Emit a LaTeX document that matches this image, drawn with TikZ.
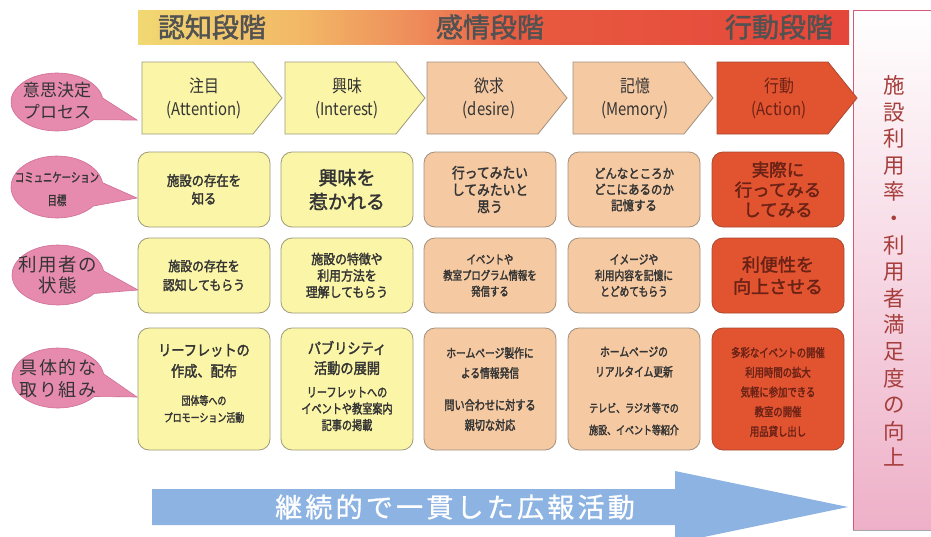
\documentclass[tikz,border=0pt]{standalone}
\usepackage{fontspec}
\setmainfont{Noto Sans CJK JP}
\newfontfamily\jr{Noto Sans CJK JP}[FakeStretch=0.85]
\newfontfamily\jb{Noto Sans CJK JP}[FakeStretch=0.88,FakeBold=2.0]
\newfontfamily\jc{Noto Sans CJK JP}[FakeStretch=0.78,FakeBold=2.0]
\newfontfamily\jh{Noto Sans CJK JP}[FakeBold=1.8]
\newfontfamily\jl{Noto Sans CJK JP}[LetterSpace=8]
\newfontfamily\jn{Noto Sans CJK JP}[FakeStretch=0.72,FakeBold=1.2]
\newfontfamily\ja{Noto Sans CJK JP}[LetterSpace=12,FakeBold=1.0]
\newcommand\fs[2]{\fontsize{#1}{#2}\selectfont}
\definecolor{yelF}{HTML}{FBF5A8}
\definecolor{yelD}{HTML}{9C9A78}
\definecolor{peaF}{HTML}{F5C9A2}
\definecolor{peaD}{HTML}{A0907F}
\definecolor{redF}{HTML}{E2532F}
\definecolor{redD}{HTML}{A84A30}
\definecolor{txt}{HTML}{343434}
\definecolor{redT}{HTML}{6A2216}
\definecolor{bubF}{HTML}{E68AAE}
\definecolor{bubD}{HTML}{D06E96}
\definecolor{blueF}{HTML}{8DB3E2}
\definecolor{pText}{HTML}{A63E3C}
\definecolor{pBox}{HTML}{EEB0C8}
\definecolor{pLine}{HTML}{D25A78}
\definecolor{barA}{HTML}{F1D872}
\definecolor{barB}{HTML}{F2B866}
\definecolor{barC}{HTML}{EE8A5A}
\definecolor{barD}{HTML}{E85A40}
\definecolor{barE}{HTML}{E4463A}
\tikzset{
  every node/.style={inner sep=0pt, outer sep=0pt},
  box/.style={rectangle, rounded corners=11pt, minimum width=132pt, minimum height=75pt, line width=0.8pt, align=center},
  yelbox/.style={box, fill=yelF, draw=yelD, text=txt},
  peabox/.style={box, fill=peaF, draw=peaD, text=txt},
  redbox/.style={box, fill=redF, draw=redD, text=redT},
  tallbox/.style={minimum height=122pt},
  pyel/.style={fill=yelF, draw=yelD, line width=0.8pt},
  ppea/.style={fill=peaF, draw=peaD, line width=0.8pt},
  pred/.style={fill=redF, draw=redD, line width=0.8pt},
  bub/.style={fill=bubF, draw=bubD, line width=0.6pt},
  inner/.style={align=center},
  stage/.style={font=\jh\fs{27}{30}, text=black!68},
}
\newcommand\penta[6]{%
  \path[#3] (#2,62) -- (#2+111,62) -- (#2+140,98) -- (#2+111,134) -- (#2,134) -- cycle;
  \node[align=center, font=\jr\fs{17.5}{23}, text=#6] (#1) at (#2+62,98.5) {#4\\#5};
}
% name, cx, cy, ry, tipx, tipy, font, text, text y
\newcommand\bubble[9]{%
  \draw[bub] (#2,#3) ++(38:46 and #4) arc[start angle=38, end angle=352, x radius=46, y radius=#4] -- (#5,#6) -- cycle;
  \node[align=center, text=txt, font=#7] (#1) at (#2,#9) {#8};
}
\begin{document}
\begin{tikzpicture}[x=1pt,y=-1pt]
\useasboundingbox (0,0) rectangle (931,536);
% top bar
\shade[left color=barA, right color=barB] (138,10) rectangle (300,44);
\shade[left color=barB, right color=barC] (299.5,10) rectangle (420,44);
\shade[left color=barC, right color=barD] (419.5,10) rectangle (520,44);
\shade[left color=barD, right color=barE] (519.5,10) rectangle (849,44);
\node[stage] (s1) at (212,27) {認知段階};
\node[stage] (s2) at (490,27) {感情段階};
\node[stage] (s3) at (779,27) {行動段階};
% right box
\shade[top color=white, bottom color=pBox] (853,10) rectangle (935,530);
\draw[pLine, line width=0.8pt] (935,10) -- (853,10) -- (853,530);
\draw[black!35, line width=1.5pt] (853,530.5) -- (935,530.5);
\node[align=center, font=\fs{21.5}{26.6}, text=pText] (goal) at (894,271) {施\\設\\利\\用\\率\\・\\利\\用\\者\\満\\足\\度\\の\\向\\上};
% bubbles
\bubble{q1}{57}{102}{29}{137}{120}{\fs{17}{22}}{意思決定\\プロセス}{100.5}
\bubble{q2}{57}{187}{31}{137}{198}{\jn\fs{13}{23}}{コミュニケーション\\目標}{189}
\bubble{q3}{58}{275}{30}{138}{290}{\jl\fs{18.5}{20.5}}{利用者の\\状態}{275}
\bubble{q4}{58}{378}{30}{137}{397}{\jl\fs{18}{22}}{具体的な\\取り組み}{379}
% row 1
\penta{p1}{142}{pyel}{注目}{(Attention)}{txt}
\penta{p2}{285}{pyel}{興味}{(Interest)}{txt}
\penta{p3}{427}{ppea}{欲求}{(desire)}{txt}
\penta{p4}{573}{ppea}{記憶}{(Memory)}{txt}
\penta{p5}{717}{pred}{行動}{(Action)}{redT}
% row 2
\node[yelbox, font=\jb\fs{14}{18}] (g1) at (204,189.5) {施設の存在を\\知る};
\node[yelbox, font=\jh\fs{19}{24}] (g2) at (347,189.5) {興味を\\惹かれる};
\node[peabox, font=\jb\fs{14.5}{17}] (g3) at (490,189.5) {行ってみたい\\してみたいと\\思う};
\node[peabox, font=\jb\fs{13}{16}] (g4) at (634,189.5) {どんなところか\\どこにあるのか\\記憶する};
\node[redbox, font=\jh\fs{17.5}{20}] (g5) at (778,189.5) {実際に\\行ってみる\\してみる};
% row 3
\node[yelbox, font=\jb\fs{13.5}{19}] (u1) at (204,275.5) {施設の存在を\\認知してもらう};
\node[yelbox, font=\jb\fs{13.5}{16.5}] (u2) at (347,275.5) {施設の特徴や\\利用方法を\\理解してもらう};
\node[peabox, font=\jc\fs{12}{16}] (u3) at (490,275.5) {イベントや\\教室プログラム情報を\\発信する};
\node[peabox, font=\jc\fs{12.5}{16}] (u4) at (634,275.5) {イメージや\\利用内容を記憶に\\とどめてもらう};
\node[redbox, font=\jh\fs{18}{22}] (u5) at (778,275.5) {利便性を\\向上させる};
% row 4
\node[yelbox, tallbox] (a1) at (204,389) {};
\node[yelbox, tallbox] (a2) at (347,389) {};
\node[peabox, tallbox] (a3) at (490,389) {};
\node[peabox, tallbox] (a4) at (634,389) {};
\node[redbox, tallbox] (a5) at (778,389) {};
\node[inner, text=txt, font=\jb\fs{15}{21}] (a1t) at (204,361) {リーフレットの\\作成、配布};
\node[inner, text=txt, font=\jc\fs{11.5}{17}] (a1b) at (204,409) {団体等への\\プロモーション活動};
\node[inner, text=txt, font=\jb\fs{15}{20}] (a2t) at (347,358) {パブリシティ\\活動の展開};
\node[inner, text=txt, font=\jc\fs{13}{16.5}] (a2b) at (347,409) {リーフレットへの\\イベントや教室案内\\記事の掲載};
\node[inner, text=txt, font=\jc\fs{12.5}{20}] (a3t) at (490,363) {ホームページ製作に\\よる情報発信};
\node[inner, text=txt, font=\jc\fs{13}{20}] (a3b) at (490,415) {問い合わせに対する\\親切な対応};
\node[inner, text=txt, font=\jc\fs{12.5}{20}] (a4t) at (634,362) {ホームページの\\リアルタイム更新};
\node[inner, text=txt, font=\jc\fs{11.5}{22}] (a4b) at (634,419) {テレビ、ラジオ等での\\施設、イベント等紹介};
\node[inner, text=redT, font=\jc\fs{12}{19.7}] (a5t) at (778,392) {多彩なイベントの開催\\利用時間の拡大\\気軽に参加できる\\教室の開催\\用品貸し出し};
% bottom arrow
\fill[blueF] (152,489) -- (675,489) -- (675,471) -- (848,507) -- (675,543) -- (675,525) -- (152,525) -- cycle;
\node[font=\ja\fs{27}{30}, text=white] (pr) at (455,507) {継続的で一貫した広報活動};
\end{tikzpicture}
\end{document}
